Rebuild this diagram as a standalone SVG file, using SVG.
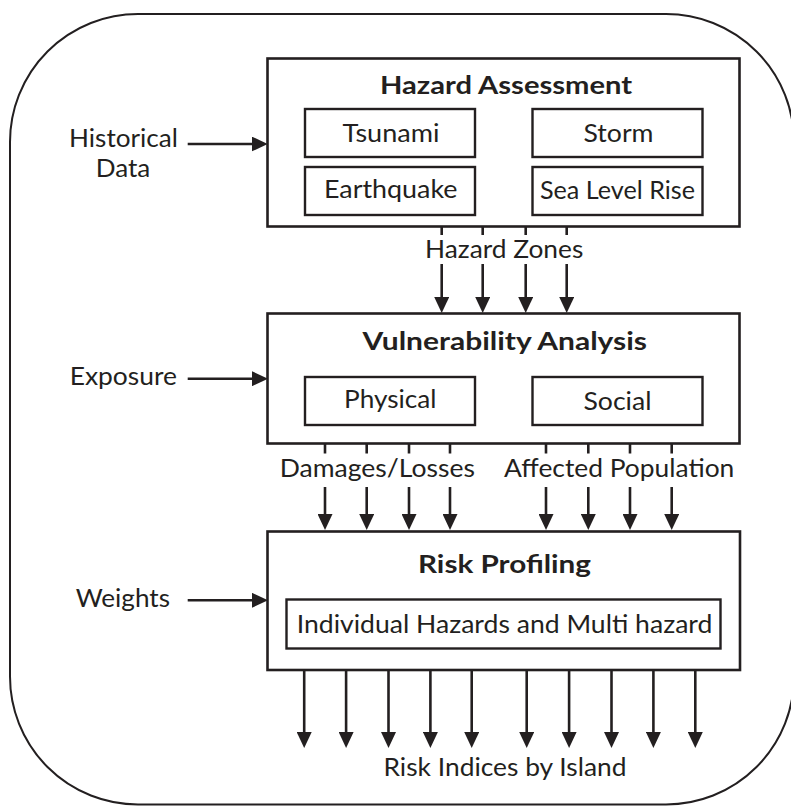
<svg xmlns="http://www.w3.org/2000/svg" width="791" height="806" viewBox="0 0 791 806">
<style>
.frame{fill:none;stroke:#231f20;stroke-width:2}
.box{fill:#fff;stroke:#231f20;stroke-width:2.6}
.sub{fill:#fff;stroke:#231f20;stroke-width:2.4}
.t{font-family:Lato,"Open Sans",sans-serif;font-size:25px;fill:#231f20}
.b{font-family:Lato,"Open Sans",sans-serif;font-size:25px;font-weight:bold;fill:#231f20}
.ln{stroke:#231f20;stroke-width:2.6;fill:none}
</style>
<defs>
<marker id="ah" markerUnits="userSpaceOnUse" markerWidth="16" markerHeight="15" viewBox="0 0 16 15" refX="2" refY="7.5" orient="auto">
<path d="M0,0 L16,7.5 L0,15 Z" fill="#231f20"/>
</marker>
</defs>
<rect id="frame" class="frame" x="10" y="14" width="784" height="790.5" rx="128" ry="128"/>

<g id="hazard-assessment">
<rect class="box" x="267.5" y="58.5" width="472" height="168"/>
<text class="b" x="380" y="94" textLength="252" lengthAdjust="spacingAndGlyphs">Hazard Assessment</text>
</g>
<g id="tsunami">
<rect class="sub" x="305" y="109" width="170" height="48"/>
<text class="t" x="342.5" y="141.7" textLength="97" lengthAdjust="spacingAndGlyphs">Tsunami</text>
</g>
<g id="earthquake">
<rect class="sub" x="305" y="167" width="170" height="48"/>
<text class="t" x="324" y="198.3" textLength="133.5" lengthAdjust="spacingAndGlyphs">Earthquake</text>
</g>
<g id="storm">
<rect class="sub" x="532.5" y="109" width="170" height="48"/>
<text class="t" x="583.5" y="141.7" textLength="70" lengthAdjust="spacingAndGlyphs">Storm</text>
</g>
<g id="sea-level-rise">
<rect class="sub" x="532.5" y="167" width="170" height="48"/>
<text class="t" x="540" y="199" textLength="155" lengthAdjust="spacingAndGlyphs">Sea Level Rise</text>
</g>

<g id="vulnerability-analysis">
<rect class="box" x="267.5" y="313.5" width="472" height="130"/>
<text class="b" x="362.5" y="350" textLength="284.5" lengthAdjust="spacingAndGlyphs">Vulnerability Analysis</text>
</g>
<g id="physical">
<rect class="sub" x="305" y="377" width="170" height="48"/>
<text class="t" x="344" y="408.3" textLength="92.5" lengthAdjust="spacingAndGlyphs">Physical</text>
</g>
<g id="social">
<rect class="sub" x="532.5" y="377" width="170" height="48"/>
<text class="t" x="583.5" y="410" textLength="68" lengthAdjust="spacingAndGlyphs">Social</text>
</g>

<g id="risk-profiling">
<rect class="box" x="267.5" y="531.5" width="472.5" height="138.5"/>
<text class="b" x="418" y="573.3" textLength="173" lengthAdjust="spacingAndGlyphs">Risk Profiling</text>
</g>
<g id="individual-multi-hazard">
<rect class="sub" x="286.5" y="599.5" width="434" height="49"/>
<text class="t" x="296.7" y="633.3" textLength="415.7" lengthAdjust="spacingAndGlyphs">Individual Hazards and Multi hazard</text>
</g>

<g id="inputs">
<text class="t" x="69" y="146.7" textLength="109" lengthAdjust="spacingAndGlyphs">Historical</text>
<text class="t" x="95.7" y="177.3" textLength="54.6" lengthAdjust="spacingAndGlyphs">Data</text>
<text class="t" x="69.7" y="385" textLength="107.3" lengthAdjust="spacingAndGlyphs">Exposure</text>
<text class="t" x="75.7" y="607.3" textLength="94.3" lengthAdjust="spacingAndGlyphs">Weights</text>
</g>

<g id="connectors">
<line class="ln" x1="187.7" y1="144" x2="253.7" y2="144" marker-end="url(#ah)"/>
<line class="ln" x1="187.7" y1="378.7" x2="254" y2="378.7" marker-end="url(#ah)"/>
<line class="ln" x1="187.7" y1="600.3" x2="254" y2="600.3" marker-end="url(#ah)"/>

<g id="hazard-zones">
<path class="ln" d="M441.7,227 V235 M482.7,227 V235 M525.7,227 V235 M566.7,227 V235"/>
<line class="ln" x1="441.7" y1="264" x2="441.7" y2="299" marker-end="url(#ah)"/>
<line class="ln" x1="482.7" y1="264" x2="482.7" y2="299" marker-end="url(#ah)"/>
<line class="ln" x1="525.7" y1="264" x2="525.7" y2="299" marker-end="url(#ah)"/>
<line class="ln" x1="566.7" y1="264" x2="566.7" y2="299" marker-end="url(#ah)"/>
<text class="t" x="425" y="258.3" textLength="158.3" lengthAdjust="spacingAndGlyphs">Hazard Zones</text>
</g>

<g id="damages-losses">
<path class="ln" d="M325,443 V453.5 M366.7,443 V453.5 M409,443 V453.5 M450,443 V453.5"/>
<line class="ln" x1="325" y1="487" x2="325" y2="516" marker-end="url(#ah)"/>
<line class="ln" x1="366.7" y1="487" x2="366.7" y2="516" marker-end="url(#ah)"/>
<line class="ln" x1="409" y1="487" x2="409" y2="516" marker-end="url(#ah)"/>
<line class="ln" x1="450" y1="487" x2="450" y2="516" marker-end="url(#ah)"/>
<text class="t" x="279.7" y="476.7" textLength="195.3" lengthAdjust="spacingAndGlyphs">Damages/Losses</text>
</g>

<g id="affected-population">
<path class="ln" d="M546,443 V453.5 M588.3,443 V453.5 M630,443 V453.5 M671.7,443 V453.5"/>
<line class="ln" x1="546" y1="487" x2="546" y2="516" marker-end="url(#ah)"/>
<line class="ln" x1="588.3" y1="487" x2="588.3" y2="516" marker-end="url(#ah)"/>
<line class="ln" x1="630" y1="487" x2="630" y2="516" marker-end="url(#ah)"/>
<line class="ln" x1="671.7" y1="487" x2="671.7" y2="516" marker-end="url(#ah)"/>
<text class="t" x="504" y="476.7" textLength="230.3" lengthAdjust="spacingAndGlyphs">Affected Population</text>
</g>

<g id="risk-indices">
<line class="ln" x1="304.2" y1="670" x2="304.2" y2="734" marker-end="url(#ah)"/>
<line class="ln" x1="346.1" y1="670" x2="346.1" y2="734" marker-end="url(#ah)"/>
<line class="ln" x1="388.5" y1="670" x2="388.5" y2="734" marker-end="url(#ah)"/>
<line class="ln" x1="430.4" y1="670" x2="430.4" y2="734" marker-end="url(#ah)"/>
<line class="ln" x1="471.7" y1="670" x2="471.7" y2="734" marker-end="url(#ah)"/>
<line class="ln" x1="526.7" y1="670" x2="526.7" y2="734" marker-end="url(#ah)"/>
<line class="ln" x1="569.1" y1="670" x2="569.1" y2="734" marker-end="url(#ah)"/>
<line class="ln" x1="611.5" y1="670" x2="611.5" y2="734" marker-end="url(#ah)"/>
<line class="ln" x1="653.4" y1="670" x2="653.4" y2="734" marker-end="url(#ah)"/>
<line class="ln" x1="695.3" y1="670" x2="695.3" y2="734" marker-end="url(#ah)"/>
<text class="t" x="383.5" y="776" textLength="243" lengthAdjust="spacingAndGlyphs">Risk Indices by Island</text>
</g>
</g>
</svg>
